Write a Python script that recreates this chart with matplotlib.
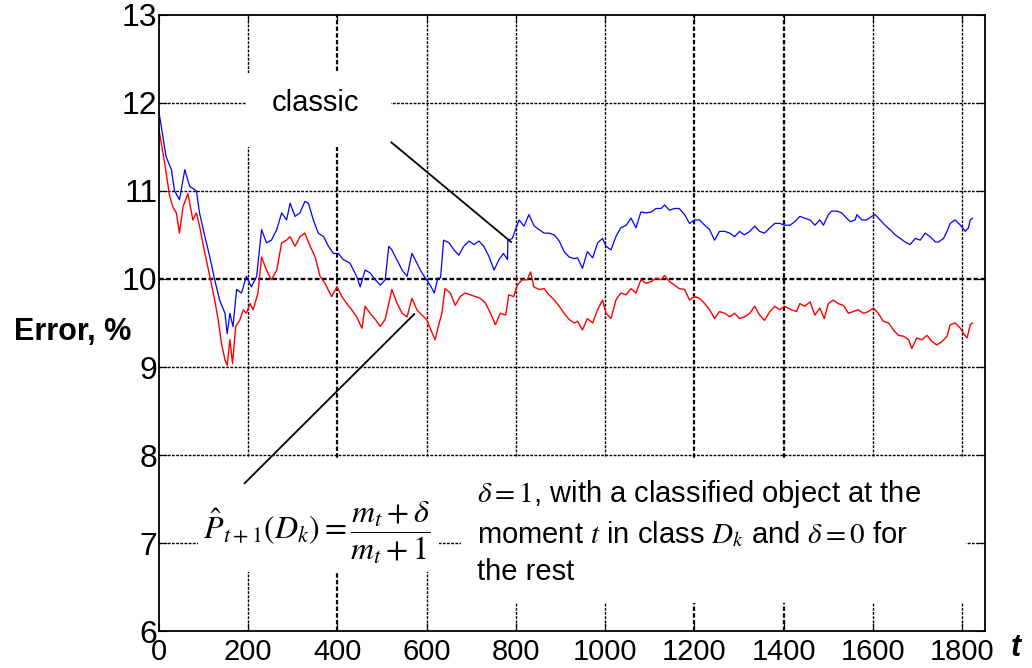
import matplotlib
matplotlib.use('Agg')
import matplotlib.pyplot as plt
from matplotlib.patches import Rectangle

# classic estimate (blue)
t_classic = [0, 16, 28, 35, 46, 58, 69, 84, 91, 103, 114, 125, 136, 148, 153, 159, 166,
             174, 185, 196, 207, 219, 230, 241, 252, 264, 275, 286, 294, 305, 316, 327,
             335, 346, 357, 369, 380, 391, 402, 413, 428, 443, 451, 462, 473, 485, 496,
             507, 515, 522, 533, 545, 556, 567, 578, 589, 600, 610, 617, 625, 631, 638,
             650, 661, 672, 683, 695, 706, 717, 728, 740, 751, 762, 772, 781, 782, 792,
             799, 807, 818, 829, 841, 852, 863, 874, 886, 897, 908, 919, 931, 938, 949,
             960, 972, 983, 994, 1002, 1013, 1024, 1035, 1047, 1058, 1069, 1080, 1092,
             1103, 1114, 1125, 1133, 1144, 1155, 1166, 1178, 1189, 1200, 1211, 1223, 1234,
             1245, 1256, 1268, 1279, 1290, 1301, 1312, 1324, 1335, 1346, 1357, 1369, 1380,
             1391, 1402, 1414, 1425, 1436, 1447, 1459, 1470, 1481, 1489, 1500, 1507, 1519,
             1530, 1541, 1549, 1560, 1564, 1575, 1586, 1597, 1605, 1616, 1627, 1638, 1650,
             1661, 1672, 1683, 1695, 1706, 1717, 1728, 1740, 1747, 1758, 1766, 1773, 1784,
             1796, 1807, 1814, 1818, 1823]
err_classic = [11.9, 11.39, 11.24, 11.0, 10.9, 11.24, 11.05, 11.0, 10.75, 10.48, 10.25,
               9.99, 9.76, 9.61, 9.38, 9.61, 9.46, 9.88, 9.84, 10.03, 9.91, 10.03, 10.56,
               10.41, 10.44, 10.56, 10.75, 10.67, 10.86, 10.71, 10.75, 10.88, 10.86, 10.67,
               10.52, 10.48, 10.37, 10.29, 10.29, 10.22, 10.18, 10.03, 9.91, 10.10, 10.07,
               9.99, 9.93, 9.99, 10.37, 10.33, 10.22, 10.10, 10.03, 10.29, 10.18, 10.07,
               9.99, 9.91, 9.84, 10.01, 10.01, 10.44, 10.41, 10.33, 10.27, 10.37, 10.43,
               10.39, 10.43, 10.37, 10.25, 10.10, 10.22, 10.29, 10.22, 10.44, 10.46, 10.56,
               10.67, 10.60, 10.73, 10.60, 10.56, 10.52, 10.52, 10.50, 10.43, 10.31, 10.25,
               10.23, 10.24, 10.12, 10.31, 10.24, 10.41, 10.46, 10.37, 10.33, 10.48, 10.58,
               10.61, 10.69, 10.58, 10.76, 10.75, 10.76, 10.80, 10.80, 10.84, 10.78, 10.80,
               10.80, 10.73, 10.63, 10.67, 10.67, 10.61, 10.56, 10.44, 10.54, 10.54, 10.52,
               10.48, 10.54, 10.50, 10.54, 10.60, 10.54, 10.52, 10.58, 10.63, 10.63, 10.61,
               10.61, 10.65, 10.71, 10.69, 10.67, 10.61, 10.67, 10.61, 10.73, 10.77, 10.77,
               10.75, 10.69, 10.65, 10.67, 10.73, 10.67, 10.67, 10.71, 10.73, 10.67, 10.61,
               10.56, 10.50, 10.46, 10.42, 10.39, 10.46, 10.44, 10.52, 10.48, 10.42, 10.42,
               10.46, 10.54, 10.63, 10.67, 10.61, 10.54, 10.58, 10.67, 10.69]

# new estimate with delta (red)
t_new = [0, 13, 24, 31, 39, 46, 54, 65, 76, 84, 91, 103, 114, 125, 133, 140, 148, 153, 159,
         165, 172, 181, 189, 196, 204, 211, 222, 230, 241, 252, 264, 275, 286, 294, 305, 316,
         327, 339, 350, 361, 372, 387, 399, 410, 421, 432, 443, 455, 462, 473, 485, 496, 507,
         522, 533, 545, 556, 567, 578, 589, 600, 611, 619, 626, 634, 641, 653, 664, 675, 686,
         698, 709, 720, 731, 743, 754, 765, 777, 784, 795, 803, 814, 825, 833, 840, 852, 863,
         874, 886, 897, 908, 919, 931, 938, 949, 960, 972, 983, 994, 1002, 1013, 1024, 1035,
         1047, 1058, 1069, 1080, 1092, 1103, 1114, 1125, 1133, 1144, 1155, 1166, 1178, 1189,
         1200, 1211, 1223, 1234, 1245, 1256, 1268, 1279, 1290, 1301, 1312, 1324, 1335, 1346,
         1357, 1369, 1380, 1391, 1402, 1417, 1429, 1436, 1447, 1459, 1470, 1481, 1491, 1500,
         1511, 1522, 1534, 1545, 1556, 1567, 1579, 1590, 1601, 1612, 1623, 1635, 1646, 1657,
         1668, 1680, 1687, 1698, 1710, 1721, 1732, 1743, 1755, 1766, 1773, 1784, 1796, 1803,
         1811, 1818, 1823]
err_new = [11.7, 11.31, 10.94, 10.82, 10.75, 10.52, 10.82, 10.97, 10.67, 10.75, 10.6, 10.29,
           10.03, 9.76, 9.53, 9.27, 9.08, 9.02, 9.31, 9.04, 9.46, 9.53, 9.65, 9.61, 9.72, 9.65,
           9.84, 10.25, 10.1, 9.99, 10.1, 10.41, 10.44, 10.48, 10.37, 10.48, 10.52, 10.37,
           10.25, 10.03, 9.95, 9.8, 9.91, 9.8, 9.72, 9.65, 9.57, 9.44, 9.69, 9.61, 9.54, 9.46,
           9.54, 9.88, 9.73, 9.61, 9.57, 9.78, 9.65, 9.59, 9.54, 9.40, 9.31, 9.46, 9.61, 9.89,
           9.84, 9.70, 9.80, 9.84, 9.82, 9.80, 9.78, 9.73, 9.61, 9.48, 9.61, 9.59, 9.82, 9.80,
           9.93, 9.99, 9.99, 10.08, 9.91, 9.88, 9.89, 9.82, 9.76, 9.69, 9.61, 9.54, 9.50, 9.52,
           9.42, 9.55, 9.50, 9.65, 9.76, 9.61, 9.55, 9.76, 9.84, 9.82, 9.89, 9.84, 9.99, 9.95,
           9.97, 10.01, 9.99, 10.04, 9.97, 9.93, 9.89, 9.88, 9.76, 9.80, 9.78, 9.72, 9.65, 9.55,
           9.63, 9.61, 9.57, 9.61, 9.55, 9.57, 9.61, 9.69, 9.59, 9.53, 9.63, 9.69, 9.65, 9.69,
           9.65, 9.63, 9.72, 9.69, 9.74, 9.59, 9.67, 9.55, 9.72, 9.76, 9.72, 9.70, 9.61, 9.63,
           9.65, 9.61, 9.63, 9.67, 9.61, 9.52, 9.50, 9.42, 9.36, 9.35, 9.31, 9.21, 9.33, 9.31,
           9.36, 9.29, 9.25, 9.29, 9.35, 9.48, 9.50, 9.44, 9.38, 9.33, 9.48, 9.50]

x_ticks = [0, 200, 400, 600, 800, 1000, 1200, 1400, 1600, 1800]
y_ticks = [6, 7, 8, 9, 10, 11, 12, 13]

plt.rcParams['mathtext.fontset'] = 'stix'
plt.rcParams['font.family'] = ['Liberation Sans', 'DejaVu Sans']

fig = plt.figure(figsize=(10.32, 6.68), dpi=100)
ax = fig.add_axes([0.154, 0.055, 0.80, 0.923])

grid_ls = (0, (2, 1))
for x in x_ticks[1:]:
    ax.axvline(x, color='k', ls=grid_ls, lw=1.6 if x in (400, 1200, 1400) else 1.0, zorder=0.5)
for y in y_ticks[1:-1]:
    ax.axhline(y, color='k', ls=grid_ls, lw=1.7 if y == 10 else 1.0, zorder=0.5)

# white boxes behind the labels hide the grid
for x0, y0, x1, y1 in [(194, 11.5, 521, 12.34), (87, 6.67, 628, 7.97), (677, 6.32, 1808, 7.97)]:
    ax.add_patch(Rectangle((x0, y0), x1 - x0, y1 - y0, facecolor='white',
                           edgecolor='none', zorder=1))

ax.plot(t_classic, err_classic, color='#0000ff', lw=0.9, zorder=2)
ax.plot(t_new, err_new, color='#ff0000', lw=1.0, zorder=2)

ax.plot([521, 789], [11.55, 10.42], color='k', lw=1.3, zorder=3)
ax.plot([192, 572], [7.68, 9.60], color='k', lw=1.3, zorder=3)

ax.text(351, 12.0, 'classic', fontsize=21, ha='center', va='center', zorder=4)
ax.text(353, 7.12, r'$\hat{P}_{t+1}(D_k) = \dfrac{m_t+\delta}{m_t+1}$', fontsize=23,
        ha='center', va='center', zorder=4)
ax.text(713, 7.13, r'$\delta=1$, with a classified object at the' + '\n'
        + r'moment $t$ in class $D_k$ and $\delta=0$ for' + '\n' + 'the rest',
        fontsize=21, ha='left', va='center', linespacing=1.4, zorder=4)

ax.set_xlim(0, 1850)
ax.set_ylim(6, 13)
ax.set_xticks(x_ticks)
ax.set_yticks(y_ticks)
ax.tick_params(direction='in', length=6, top=True, right=True, pad=2)
ax.tick_params(axis='y', labelsize=23, pad=1)
ax.tick_params(axis='x', labelsize=21, pad=5)
for s in ax.spines.values():
    s.set_linewidth(1.3)

fig.text(0.07, 0.503, 'Error, %', fontsize=22, fontweight='bold', ha='center', va='center')
fig.text(0.984, 0.03, 't', fontsize=22, fontweight='bold', style='italic',
         ha='center', va='center')

fig.savefig('out.png', dpi=100)
